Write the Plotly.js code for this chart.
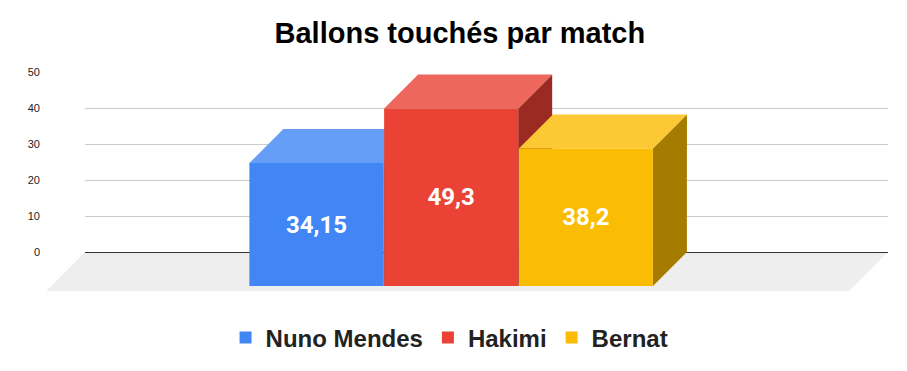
<!DOCTYPE html>
<html><head><meta charset="utf-8">
<script src="https://cdn.plot.ly/plotly-3.0.1.min.js"></script>
<style>html,body{margin:0;padding:0;background:#fff;overflow:hidden}</style>
</head><body><div id="chart" style="width:907px;height:371px"></div>
<script>
// ---- data ----
const players = ['Nuno Mendes', 'Hakimi', 'Bernat'];
const values = [34.15, 49.3, 38.2];
const yTicks = [0, 10, 20, 30, 40, 50];
const chartTitle = 'Ballons touchés par match';

// ---- style ----
const frontColors = ['#4285f4', '#ea4335', '#fbbc04'];
const topColors = ['#669df6', '#ee675c', '#fcc934'];
const sideColors = ['#2f63c9', '#9a2a22', '#a67c00'];
const DX = 0.2524;   // 3D depth in x-axis units
const DY = 9.444;    // 3D depth in y-axis units
const W = 0.995;     // bar width

const labels = values.map(v => String(v).replace('.', ','));

const traces = players.map((p, i) => ({
  type: 'bar',
  name: p,
  x: [i - DX],
  y: [values[i]],
  base: [-DY],
  width: [W],
  marker: {color: frontColors[i], line: {width: 0}},
  text: [labels[i]],
  textposition: 'inside',
  insidetextanchor: 'middle',
  textangle: 0,
  constraintext: 'none',
  textfont: {family: 'Roboto, Arial, sans-serif', size: 24, color: '#ffffff', weight: 700},
  hoverinfo: 'skip'
}));

const shapes = [];
// floor
shapes.push({
  type: 'path', xref: 'paper', yref: 'y', layer: 'below',
  path: 'M 0,0 L 1,0 L 0.9514,-10.89 L -0.0486,-10.89 Z',
  fillcolor: '#eeeeee', line: {width: 0}
});
players.forEach((p, i) => {
  const v = values[i];
  const x0 = i - W / 2, x1 = i + W / 2;
  shapes.push({
    type: 'path', xref: 'x', yref: 'y', layer: 'between',
    path: `M ${x1 - DX},${-DY} L ${x1 - DX},${v - DY} L ${x1},${v} L ${x1},0 Z`,
    fillcolor: sideColors[i], line: {width: 0}
  });
  shapes.push({
    type: 'path', xref: 'x', yref: 'y', layer: 'between',
    path: `M ${x0 - DX},${v - DY} L ${x1 - DX},${v - DY} L ${x1},${v} L ${x0},${v} Z`,
    fillcolor: topColors[i], line: {width: 0}
  });
});

const layout = {
  width: 907, height: 371,
  margin: {l: 85, r: 19, t: 72, b: 71, pad: 0, autoexpand: false},
  paper_bgcolor: '#ffffff', plot_bgcolor: '#ffffff',
  font: {family: '"Liberation Sans", Arial, sans-serif', color: '#222222'},
  title: {
    text: chartTitle,
    font: {family: '"Liberation Sans", Arial, sans-serif', size: 29, color: '#000000', weight: 700},
    x: 0.507, xanchor: 'center', xref: 'container',
    y: 0.911, yanchor: 'middle', yref: 'container'
  },
  barmode: 'overlay',
  hovermode: false,
  showlegend: true,
  legend: {
    orientation: 'h', x: 0.454, xanchor: 'center', y: -0.067, yanchor: 'top',
    font: {family: '"Liberation Sans", Arial, sans-serif', size: 24, color: '#222222', weight: 700},
    bgcolor: 'rgba(0,0,0,0)'
  },
  xaxis: {
    range: [-1.97, 3.99], showgrid: false, zeroline: false, showticklabels: false,
    showline: false, ticks: '', fixedrange: true
  },
  yaxis: {
    range: [-13.333, 50], tickvals: yTicks, ticktext: yTicks.map(String),
    showgrid: true, gridcolor: '#cccccc', gridwidth: 1,
    zeroline: true, zerolinecolor: '#333333', zerolinewidth: 1,
    showline: false, ticks: '', ticklabelstandoff: 44,
    tickfont: {family: '"Liberation Sans", Arial, sans-serif', size: 11, color: '#222222'},
    fixedrange: true
  },
  shapes: shapes
};

Plotly.newPlot('chart', traces, layout, {displayModeBar: false, staticPlot: true});
</script>
</body></html>
